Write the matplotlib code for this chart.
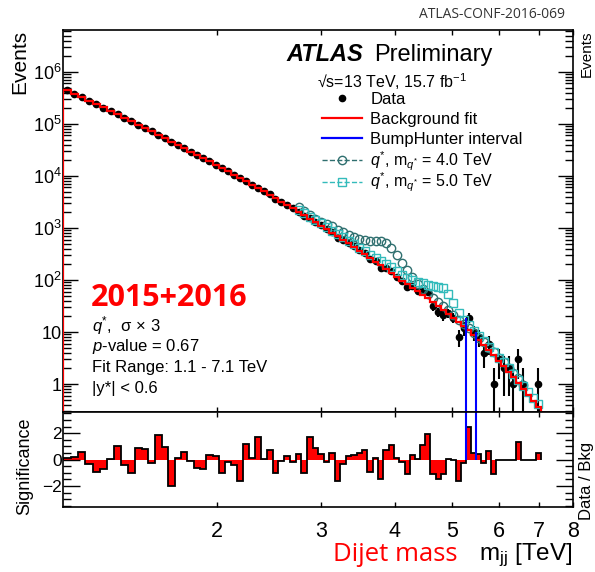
import matplotlib
matplotlib.use("Agg")
import matplotlib.pyplot as plt
import numpy as np
from matplotlib.legend import Legend
from matplotlib.lines import Line2D
from matplotlib.ticker import FixedLocator, FuncFormatter, LogLocator, MultipleLocator, NullFormatter, NullLocator

# dijet mass bin edges [TeV]
mjj_edges = [
    1.100, 1.133, 1.166, 1.200, 1.234, 1.269, 1.305, 1.341, 1.378, 1.416,
    1.454, 1.493, 1.533, 1.573, 1.614, 1.656, 1.698, 1.741, 1.785, 1.830,
    1.875, 1.921, 1.968, 2.016, 2.065, 2.114, 2.164, 2.215, 2.267, 2.320,
    2.374, 2.429, 2.485, 2.542, 2.600, 2.659, 2.719, 2.780, 2.842, 2.905,
    2.969, 3.034, 3.100, 3.167, 3.235, 3.305, 3.376, 3.448, 3.521, 3.596,
    3.672, 3.749, 3.827, 3.907, 3.988, 4.070, 4.154, 4.239, 4.326, 4.414,
    4.504, 4.595, 4.688, 4.782, 4.878, 4.975, 5.074, 5.175, 5.277, 5.381,
    5.487, 5.595, 5.705, 5.817, 5.931, 6.047, 6.165, 6.285, 6.407, 6.531,
    6.658, 6.787, 6.918, 7.052,
]

# background fit, events per bin
bkg_fit = [
    448000, 383000, 327000, 281000, 240000, 207000, 177000, 152400, 130600, 112500,
    96800, 83180, 71610, 61800, 53210, 45920, 39720, 34280, 29510, 25470,
    22030, 19010, 16440, 14160, 12250, 10570, 9141, 7889, 6808, 5861,
    5058, 4355, 3750, 3228, 2773, 2382, 2051, 1758, 1510, 1297,
    1112, 952.8, 814.7, 698.2, 595.7, 508.2, 433.5, 369.0, 313.3, 266.1,
    225.9, 191.4, 161.8, 136.8, 115.3, 97.05, 83.6, 71.6, 61.4, 52.5,
    44.8, 38.1, 32.1, 27.0, 22.7, 19.0, 15.8, 13.2, 10.8, 8.77,
    7.11, 5.65, 4.49, 3.54, 2.81, 2.21, 1.73, 1.35, 1.05, 0.81,
    0.62, 0.47, 0.36,
]

# observed events per bin
data_counts = [
    448070, 383124, 327315, 280814, 239535, 206659, 177021, 152790, 130456, 112165,
    97064, 83411, 71543, 62260, 53429, 45492, 39740, 34382, 29484, 25366,
    21919, 19058, 16472, 14035, 12228, 10524, 8983, 7996, 6816, 5991,
    5062, 4401, 3686, 3222, 2786, 2372, 2071, 1714, 1576, 1329,
    1127, 947, 829, 656, 587, 515, 441, 379, 325, 251,
    228, 170, 172, 150, 116, 95, 74, 75, 62, 61,
    58, 31, 24, 21, 23, 19, 8, 12, 19, 10,
    8, 4, 6, 1, 3, 2, 2, 1, 3, 1,
    0, 0, 1,
]

# bin-by-bin significance (lower panel)
significance = [
    0.1, 0.2, 0.55, -0.35, -0.95, -0.75, 0.05, 1.0, -0.4, -1.0,
    0.85, 0.8, -0.25, 1.85, 0.95, -2.0, 0.1, 0.55, -0.15, -0.65,
    -0.75, 0.35, 0.25, -1.05, -0.2, -0.45, -1.65, 1.2, 0.1, 1.7,
    0.05, 0.7, -1.05, -0.1, 0.25, -0.2, 0.45, -1.05, 1.7, 0.9,
    0.45, -0.2, 0.5, -1.6, -0.35, 0.3, 0.35, 0.5, 0.7, -0.95,
    0.1, -1.5, 0.75, 1.1, 0.1, -0.2, -1.1, 0.35, 0.05, 1.1,
    1.9, -1.1, -1.45, -1.1, 0.05, -0.05, -1.65, -0.3, 2.45, 0.5,
    0.4, -0.25, 0.65, -1.1, 0.0, 0.0, 0.0, 0.0, 1.3, 0.0,
    0.0, 0.0, 0.5,
]

# signal + background (sigma x 3), starting at bin index 36
signal_first_bin = 36
qstar4_counts = [
    2510, 2090, 1780, 1510, 1320, 1175, 1070, 933, 832, 741,
    661, 603, 575, 562, 562, 550, 513, 417, 309, 214,
    155, 112, 85, 68, 55, 46, 37, 31, 26, 21,
    17.4, 14.1, 11.7, 9.5, 7.8, 6.3, 5.0, 4.1, 3.2, 2.6,
    2.0, 1.6, 1.3, 0.98,
]
qstar5_counts = [
    2240, 1905, 1660, 1413, 1230, 1047, 891, 776, 661, 562,
    490, 417, 355, 302, 263, 229, 200, 174, 148, 126,
    110, 100, 93.3, 87.1, 81.3, 77.6, 74.1, 69.2, 55.0, 35.5,
    22.9, 17.4, 13.5, 10.5, 8.5, 6.6, 5.2, 4.2, 3.2, 2.6,
    2.0, 1.55, 1.2, 0.93, 0.71, 0.54, 0.41,
]

bumphunter_interval = [5.277, 5.487]
x_ticks = [2, 3, 4, 5, 6, 7, 8]
legend_labels = [
    "Data",
    "Background fit",
    "BumpHunter interval",
    r"$q^{*}$, m$_{q^{*}}$ = 4.0 TeV",
    r"$q^{*}$, m$_{q^{*}}$ = 5.0 TeV",
]
legend_rows_y = [0.818, 0.766, 0.713, 0.657, 0.601]
legend_sizes = [12, 12, 12, 11.5, 11.5]
info_lines = [
    r"$q^{*}$,  σ × 3",
    r"$p$-value = 0.67",
    "Fit Range: 1.1 - 7.1 TeV",
    "|y*| < 0.6",
]

C4 = "#2f6f6f"
C5 = "#33bbbb"

plt.rcParams["font.family"] = ["Liberation Sans", "DejaVu Sans"]
plt.rcParams["mathtext.fontset"] = "custom"
plt.rcParams["mathtext.rm"] = "Liberation Sans"
plt.rcParams["mathtext.it"] = "Liberation Sans:italic"
plt.rcParams["mathtext.bf"] = "Liberation Sans:bold"


def log_label(v, pos):
    if v < 1:
        return ""
    e = int(round(np.log10(v)))
    if e == 0:
        return "1"
    if e == 1:
        return "10"
    return rf"$10^{{{e}}}$"


def main():
    edges = np.array(mjj_edges)
    centers = 0.5 * (edges[1:] + edges[:-1])
    n = np.array(data_counts, dtype=float)
    sig_x = centers[signal_first_bin:]

    fig = plt.figure(figsize=(5.95, 5.72), dpi=100)
    ax = fig.add_axes([0.106, 0.2797, 0.857, 0.6679])
    axr = fig.add_axes([0.106, 0.1136, 0.857, 0.1661])

    # ---- main panel
    has = n > 0
    err = np.sqrt(n)
    lo = np.minimum(err, n - 1e-6)
    ax.errorbar(centers[has], n[has], yerr=[lo[has], err[has]], fmt="o", color="black",
                ms=4.5, elinewidth=1.5, capsize=0, zorder=2)
    ax.plot(sig_x[:len(qstar4_counts)], qstar4_counts, ls="none", marker="o", ms=6,
            mfc="none", mec=C4, mew=1.0, zorder=3)
    ax.plot(sig_x[:len(qstar5_counts)], qstar5_counts, ls="none", marker="s", ms=6,
            mfc="none", mec=C5, mew=1.0, zorder=3)
    ax.stairs(bkg_fit, edges, color="red", lw=1.6, zorder=4)

    ylo, yhi = 0.29, 6.4e6
    idx = np.searchsorted(edges, bumphunter_interval)
    tops = [n[idx[0]], n[idx[1] - 1]]
    ax.vlines(bumphunter_interval, ylo, tops, color="blue", lw=1.5, zorder=5)

    ax.set_xscale("log")
    ax.set_yscale("log")
    ax.set_xlim(1.1, 8)
    ax.set_ylim(ylo, yhi)
    ax.yaxis.set_major_locator(LogLocator(base=10, numticks=12))
    ax.yaxis.set_minor_locator(LogLocator(base=10, subs=np.arange(2, 10), numticks=12))
    ax.yaxis.set_major_formatter(FuncFormatter(log_label))
    ax.yaxis.set_minor_formatter(NullFormatter())
    ax.xaxis.set_major_locator(FixedLocator(x_ticks))
    ax.xaxis.set_minor_locator(NullLocator())
    ax.xaxis.set_major_formatter(NullFormatter())
    ax.tick_params(which="both", direction="in", top=True, right=True)
    ax.tick_params(axis="y", which="major", length=11, width=1, labelsize=13, pad=1)
    ax.tick_params(axis="y", which="minor", length=5.5, width=1)
    ax.tick_params(axis="x", which="major", length=3.6, width=1)

    # legend, one row at a time so the rows sit where the reference has them
    handles = [
        Line2D([], [], ls="none", marker="o", color="black", ms=4.5),
        Line2D([], [], color="red", lw=1.6),
        Line2D([], [], color="blue", lw=1.6),
        Line2D([], [], color=C4, ls="--", lw=1, marker="o", mfc="none", ms=6),
        Line2D([], [], color=C5, ls="--", lw=1, marker="s", mfc="none", ms=6),
    ]
    for h, lab, yrow, fs in zip(handles, legend_labels, legend_rows_y, legend_sizes):
        leg = Legend(ax, [h], [lab], loc="center left", bbox_to_anchor=(0.508, yrow),
                     frameon=False, fontsize=fs, handlelength=2.4 * 12 / fs,
                     handletextpad=0.5 * 12 / fs, borderpad=0, borderaxespad=0, numpoints=1)
        ax.add_artist(leg)

    # ---- significance panel
    axr.stairs(significance, edges, baseline=0, fill=True, color="red", lw=0)
    axr.stairs(significance, edges, baseline=0, color="black", lw=1.3)
    sig_lo, sig_hi = -3.6, 3.6
    axr.vlines(bumphunter_interval, 0, sig_hi, color="blue", lw=1.5)
    axr.set_xscale("log")
    axr.set_xlim(1.1, 8)
    axr.set_ylim(sig_lo, sig_hi)
    axr.xaxis.set_major_locator(FixedLocator(x_ticks))
    axr.xaxis.set_minor_locator(NullLocator())
    axr.xaxis.set_major_formatter(FuncFormatter(lambda v, p: f"{v:g}"))
    axr.yaxis.set_major_locator(MultipleLocator(2))
    axr.yaxis.set_minor_locator(MultipleLocator(0.5))
    axr.yaxis.set_major_formatter(FuncFormatter(
        lambda v, p: f"{v:g}".replace("-", "\u2212") if abs(v) < 3 else ""))
    axr.tick_params(which="both", direction="in", top=True, right=True)
    axr.tick_params(axis="y", which="major", length=12, width=1, labelsize=12.5, pad=1)
    axr.tick_params(axis="y", which="minor", length=6, width=1)
    axr.tick_params(axis="x", which="major", length=3.6, width=1, labelsize=15.5, pad=10)

    for a in (ax, axr):
        for s in a.spines.values():
            s.set_linewidth(1.2)

    # ---- labels and annotations
    fig.text(0.034, 0.9476, "Events", rotation=90, ha="center", va="top", fontsize=15)
    fig.text(0.042, 0.185, "Significance", rotation=90, ha="center", va="center", fontsize=13)
    fig.text(0.998, 0.946, "Events", rotation=90, ha="right", va="top", fontsize=11)
    fig.text(0.998, 0.159, "Data / Bkg", rotation=90, ha="right", va="center", fontsize=12)

    fig.text(0.950, 0.974, "ATLAS-CONF-2016-069", ha="right", va="center",
             fontsize=10, family="Open Sans", color="#333333")
    fig.text(0.482, 0.904, "ATLAS", ha="left", va="center", fontsize=17,
             weight="bold", style="italic")
    fig.text(0.629, 0.904, "Preliminary", ha="left", va="center", fontsize=17)
    fig.text(0.533, 0.858, "√s=13 TeV, 15.7 fb$^{-1}$", ha="left", va="center", fontsize=11.5)

    fig.text(0.153, 0.479, "2015+2016", ha="left", va="center", fontsize=22,
             family="Open Sans", weight="bold", color="red")
    for i, line in enumerate(info_lines):
        fig.text(0.155, 0.430 - i * 0.0365, line, ha="left", va="center", fontsize=12)

    fig.text(0.560, 0.030, "Dijet mass", ha="left", va="center", fontsize=18.5,
             family="Open Sans", color="red")
    fig.text(0.963, 0.030, r"m$_{\rm jj}$ [TeV]", ha="right", va="center", fontsize=17.5)

    fig.savefig("out.png", dpi=100)


if __name__ == "__main__":
    main()
